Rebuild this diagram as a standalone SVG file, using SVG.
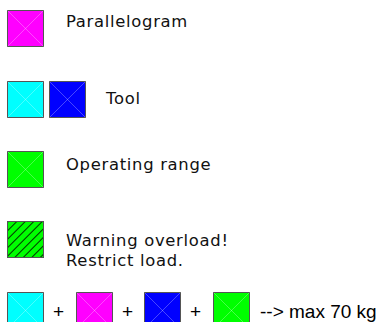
<svg xmlns="http://www.w3.org/2000/svg" width="380" height="322" viewBox="0 0 380 322">
<defs>
<pattern id="hatch" patternUnits="userSpaceOnUse" width="6" height="6" patternTransform="rotate(45)">
<rect width="6" height="6" fill="#00ff00"/>
<line x1="0" y1="0" x2="0" y2="6" stroke="#000" stroke-width="1.6"/>
</pattern>
</defs>
<style>
.box{stroke:#555;stroke-width:1}
.x{stroke:#fff;stroke-opacity:0.28;stroke-width:1}
.lbl{font-family:"DejaVu Sans",sans-serif;font-size:16.4px;letter-spacing:0.7px;fill:#111}
.sum{font-family:"Liberation Sans",Arial,sans-serif;font-size:19px;fill:#000}
</style>
<g id="parallelogram">
<rect class="box" x="7.5" y="10.5" width="36" height="36" fill="#ff00ff"/>
<path class="x" d="M7.5 10.5L43.5 46.5M43.5 10.5L7.5 46.5"/>
<text class="lbl" x="66" y="27">Parallelogram</text>
</g>
<g id="tool">
<rect class="box" x="7.5" y="81.5" width="36" height="36" fill="#00ffff" stroke="#222"/>
<path class="x" d="M7.5 81.5L43.5 117.5M43.5 81.5L7.5 117.5"/>
<rect class="box" x="49.5" y="81.5" width="36" height="36" fill="#0000ff"/>
<path class="x" d="M49.5 81.5L85.5 117.5M85.5 81.5L49.5 117.5"/>
<text class="lbl" x="106" y="104">Tool</text>
</g>
<g id="operating-range">
<rect class="box" x="7.5" y="151.5" width="36" height="36" fill="#00ff00"/>
<path class="x" d="M7.5 151.5L43.5 187.5M43.5 151.5L7.5 187.5"/>
<text class="lbl" x="66" y="170">Operating range</text>
</g>
<g id="warning">
<rect class="box" x="7.5" y="221.5" width="36" height="36" fill="url(#hatch)"/>
<text class="lbl" x="66" y="246">Warning overload!</text>
<text class="lbl" x="66" y="266">Restrict load.</text>
</g>
<g id="sum">
<rect class="box" x="7.5" y="292.5" width="36" height="36" fill="#00ffff"/>
<path class="x" d="M7.5 292.5L43.5 328.5M43.5 292.5L7.5 328.5"/>
<text class="sum" x="53" y="318">+</text>
<rect class="box" x="76.5" y="292.5" width="36" height="36" fill="#ff00ff"/>
<path class="x" d="M76.5 292.5L112.5 328.5M112.5 292.5L76.5 328.5"/>
<text class="sum" x="122" y="318">+</text>
<rect class="box" x="144.5" y="292.5" width="36" height="36" fill="#0000ff"/>
<path class="x" d="M144.5 292.5L180.5 328.5M180.5 292.5L144.5 328.5"/>
<text class="sum" x="190" y="318">+</text>
<rect class="box" x="213.5" y="292.5" width="36" height="36" fill="#00ff00"/>
<path class="x" d="M213.5 292.5L249.5 328.5M249.5 292.5L213.5 328.5"/>
<text class="sum" x="260" y="318">--&gt; max 70 kg</text>
</g>
</svg>
